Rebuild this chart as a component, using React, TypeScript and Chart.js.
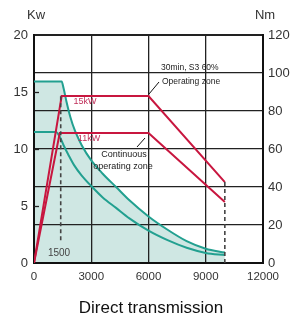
import React, { useEffect, useRef } from "react";
import { Chart, registerables } from "chart.js";

Chart.register(...registerables);

// Peak (S3 60%) power line, kW
const rpmPeak = [0, 1450, 6000, 10000];
const kwPeak = [0, 14.65, 14.65, 7.1];
// Continuous power line, kW
const rpmCont = [0, 1350, 6000, 10000];
const kwCont = [0, 11.4, 11.4, 5.35];
// Peak torque curve, Nm
const rpmTorquePeak = [0, 1450, 1550, 1700, 1900, 2150, 2500, 3000, 3600, 4300, 5000, 6000, 7000, 8000, 9000, 10000];
const nmTorquePeak = [95.5, 95.5, 92, 85, 77, 69.5, 62, 54, 47, 40, 33, 24.5, 17.5, 11.5, 7.5, 5.5];
// Continuous torque curve, Nm
const rpmTorqueCont = [0, 1150, 1350, 1550, 1800, 2100, 2500, 3000, 3600, 4300, 5000, 6000, 7000, 8000, 9000, 10000];
const nmTorqueCont = [69, 69, 66.5, 62, 57, 51.5, 46, 40.5, 34.5, 29, 23.5, 17, 12, 8, 5.3, 4.2];
// Dashed markers
const rpmBase = [1400, 1400];
const kwBase = [2, 14.65];
const rpmMax = [10000, 10000];
const kwMax = [0, 7.1];

const xTicks = [0, 3000, 6000, 9000, 12000];
const kwTicks = [0, 5, 10, 15, 20];
const nmTicks = [0, 20, 40, 60, 80, 100, 120];

const RED = "#c8163f";
const TEAL = "#22a090";
const FILL = "#cfe7e3";
const FONT = "'Liberation Sans', Arial, sans-serif";

const zip = (xs: number[], ys: number[]) => xs.map((x, i) => ({ x, y: ys[i] }));

const textPlugin = {
  id: "texts",
  afterDraw(chart: any) {
    const ctx = chart.ctx;
    const y = chart.scales.y;
    const area = chart.chartArea;
    ctx.save();
    // inner tick marks on the left axis
    ctx.strokeStyle = "#222";
    ctx.lineWidth = 1.3;
    kwTicks.slice(1, -1).forEach((v) => {
      const py = Math.round(y.getPixelForValue(v)) + 0.5;
      ctx.beginPath();
      ctx.moveTo(area.left, py);
      ctx.lineTo(area.left + 5, py);
      ctx.stroke();
    });
    ctx.textBaseline = "middle";
    ctx.fillStyle = "#333";
    ctx.font = `13px ${FONT}`;
    ctx.textAlign = "center";
    ctx.fillText("Kw", 36, 15);
    ctx.fillText("Nm", 265, 15);
    // title
    ctx.fillStyle = "#111";
    ctx.font = `17px ${FONT}`;
    ctx.fillText("Direct transmission", 151, 308);
    // annotations
    ctx.fillStyle = "#222";
    ctx.font = `8.5px ${FONT}`;
    ctx.textAlign = "left";
    ctx.fillText("30min, S3 60%", 161, 68);
    ctx.fillText("Operating zone", 162, 82);
    ctx.font = `9px ${FONT}`;
    ctx.textAlign = "center";
    ctx.fillText("Continuous", 124, 155);
    ctx.fillText("operating zone", 123, 167);
    ctx.fillStyle = "#444";
    ctx.font = `10px ${FONT}`;
    ctx.fillText("1500", 59, 253);
    ctx.fillStyle = "#c0305a";
    ctx.font = `9px ${FONT}`;
    ctx.fillText("15kW", 85, 102);
    ctx.fillText("11kW", 89, 139);
    // leader lines
    ctx.strokeStyle = "#111";
    ctx.lineWidth = 1;
    ctx.beginPath();
    ctx.moveTo(149, 94);
    ctx.lineTo(159, 82);
    ctx.moveTo(137, 147);
    ctx.lineTo(145, 138);
    ctx.stroke();
    ctx.restore();
  },
};

export default function App() {
  const ref = useRef<HTMLCanvasElement | null>(null);
  useEffect(() => {
    if (!ref.current) return;
    const chart = new Chart(ref.current, {
      type: "line",
      data: {
        datasets: [
          { data: zip(rpmMax, kwMax), yAxisID: "y", borderColor: "#444", borderWidth: 1.6, borderDash: [4, 3], pointRadius: 0, fill: false },
          { data: zip(rpmBase, kwBase), yAxisID: "y", borderColor: "#444", borderWidth: 1.6, borderDash: [4, 3], pointRadius: 0, fill: false },
          { data: zip(rpmPeak, kwPeak), yAxisID: "y", borderColor: RED, borderWidth: 2, pointRadius: 0, fill: false, tension: 0 },
          { data: zip(rpmCont, kwCont), yAxisID: "y", borderColor: RED, borderWidth: 2, pointRadius: 0, fill: false, tension: 0 },
          { data: zip(rpmTorqueCont, nmTorqueCont), yAxisID: "y1", borderColor: TEAL, borderWidth: 2, pointRadius: 0, fill: false, cubicInterpolationMode: "monotone" },
          { data: zip(rpmTorquePeak, nmTorquePeak), yAxisID: "y1", borderColor: TEAL, backgroundColor: FILL, borderWidth: 2, pointRadius: 0, fill: "origin", cubicInterpolationMode: "monotone" },
        ],
      },
      options: {
        animation: false,
        responsive: false,
        devicePixelRatio: 1,
        layout: { padding: { top: 35, left: 0, right: 0, bottom: 0 } },
        plugins: {
          legend: { display: false },
          tooltip: { enabled: false },
          filler: { drawTime: "beforeDraw" },
        } as any,
        scales: {
          x: {
            type: "linear",
            min: 0,
            max: 12000,
            afterFit: (s: any) => { s.height = 59; },
            afterBuildTicks: (s: any) => { s.ticks = xTicks.map((v) => ({ value: v })); },
            ticks: { padding: 7, color: "#333", font: { family: FONT, size: 11.5 }, maxRotation: 0, autoSkip: false, callback: (v: any) => String(v) },
            grid: { color: "#222", lineWidth: (c: any) => (c.tick && (c.tick.value === 0 || c.tick.value === 12000) ? 2 : 1.3), drawTicks: false },
            border: { display: true, color: "#111", width: 2 },
          },
          y: {
            type: "linear",
            position: "left",
            min: 0,
            max: 20,
            afterFit: (s: any) => { s.width = 34; },
            afterBuildTicks: (s: any) => { s.ticks = kwTicks.map((v) => ({ value: v })); },
            ticks: { padding: 6, color: "#333", font: { family: FONT, size: 13 }, callback: (v: any) => String(v) },
            grid: { drawOnChartArea: false, drawTicks: false },
            border: { display: true, color: "#111", width: 2 },
          },
          y1: {
            type: "linear",
            position: "right",
            min: 0,
            max: 120,
            afterFit: (s: any) => { s.width = 41; },
            afterBuildTicks: (s: any) => { s.ticks = nmTicks.map((v) => ({ value: v })); },
            ticks: { padding: 5, color: "#333", font: { family: FONT, size: 13 }, callback: (v: any) => String(v) },
            grid: { color: "#222", lineWidth: (c: any) => (c.tick && (c.tick.value === 120 || c.tick.value === 0) ? 2 : 1.3), drawTicks: false },
            border: { display: true, color: "#111", width: 2 },
          },
        },
      } as any,
      plugins: [textPlugin],
    });
    return () => chart.destroy();
  }, []);
  return (
    <div style={{ position: "absolute", left: 0, top: 0, width: 304, height: 322, background: "#fff" }}>
      <canvas ref={ref} width={304} height={322} />
    </div>
  );
}
